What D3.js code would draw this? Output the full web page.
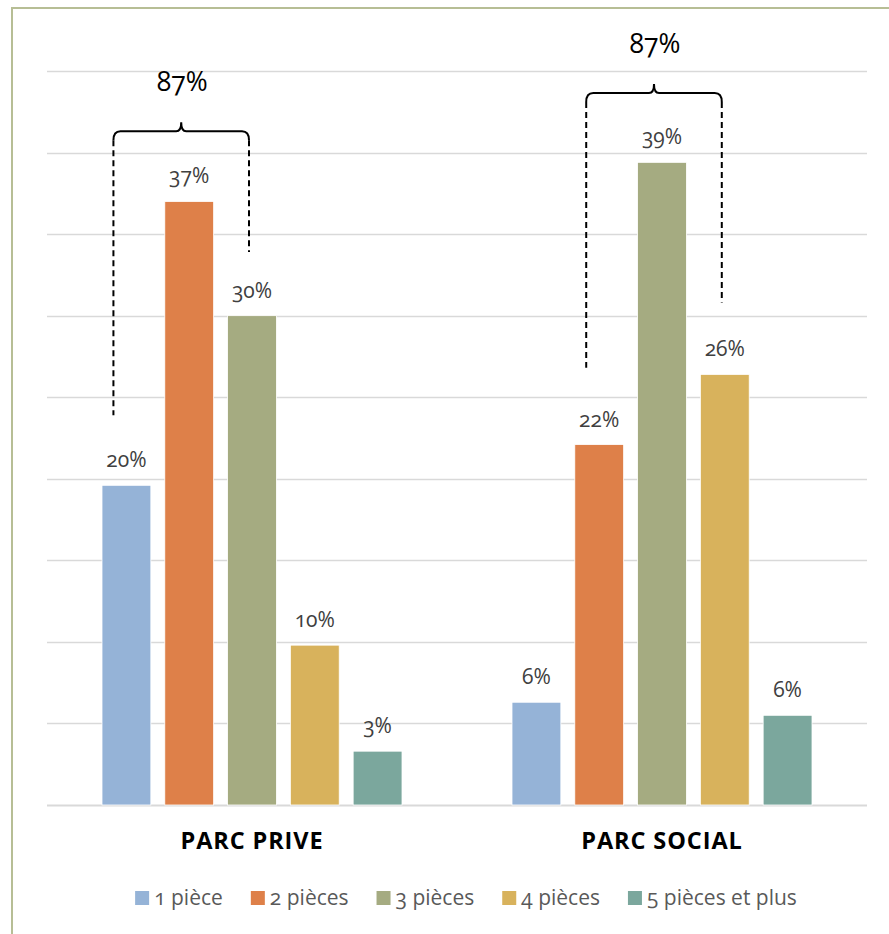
<!DOCTYPE html>
<html>
<head>
<meta charset="utf-8">
<script src="https://cdn.jsdelivr.net/npm/d3@7"></script>
<style>
  body { margin: 0; background: #fff; }
  svg text { font-family: "Open Sans", "Noto Sans", sans-serif; font-variant-numeric: oldstyle-nums; }
</style>
</head>
<body>
<svg width="889" height="934"></svg>
<script>
// categories and series
var groups = ["PARC PRIVE", "PARC SOCIAL"];
var series = ["1 pièce", "2 pièces", "3 pièces", "4 pièces", "5 pièces et plus"];
var colors = ["#95B3D7", "#DE8049", "#A5AB81", "#D8B25C", "#7BA79D"];
var prive = [19.6, 37.0, 30.0, 9.8, 3.3];
var social = [6.3, 22.1, 39.4, 26.4, 5.5];
var yTicks = [0, 5, 10, 15, 20, 25, 30, 35, 40, 45];

// accolades "87%" : groupe, 1ere et derniere serie, niveau, fin des pointillés
var braceLabel = ["87%", "87%"];
var braceFrom = [0, 1];
var braceTo = [2, 3];
var braceLevel = [41.3, 43.65];
var braceDashLeft = [23.9, 26.8];
var braceDashRight = [33.9, 30.8];

var values = [prive, social];

var svg = d3.select("svg");

// cadre
svg.append("rect")
    .attr("x", 12).attr("y", 8)
    .attr("width", 900).attr("height", 950)
    .attr("fill", "none")
    .attr("stroke", "#B7BE95")
    .attr("stroke-width", 2);

var y = d3.scaleLinear().domain([0, 45]).range([805, 71]);
var x0 = d3.scaleBand().domain(groups).range([47, 867]).padding(0);
var x1 = d3.scaleBand().domain(series).range([55, 355]).paddingInner(0.222).paddingOuter(0);

// grille
svg.append("g").selectAll("line").data(yTicks).enter().append("line")
    .attr("x1", 47).attr("x2", 867)
    .attr("y1", function (d) { return Math.round(y(d)) + 0.5; })
    .attr("y2", function (d) { return Math.round(y(d)) + 0.5; })
    .attr("stroke", "#D9D9D9")
    .attr("stroke-width", d => d === 0 ? 2 : 1.5);

// barres
var gGroups = svg.selectAll(".grp").data(groups).enter().append("g")
    .attr("class", "grp")
    .attr("transform", function (d) { return "translate(" + x0(d) + ",0)"; });

gGroups.each(function (g, gi) {
    var grp = d3.select(this);
    var rows = series.map(function (s, i) { return { s: s, v: values[gi][i], c: colors[i] }; });
    grp.selectAll("rect").data(rows).enter().append("rect")
        .attr("x", d => x1(d.s))
        .attr("y", d => y(d.v))
        .attr("width", x1.bandwidth())
        .attr("height", d => y(0) - y(d.v))
        .attr("fill", d => d.c)
        .attr("stroke", "#fff")
        .attr("stroke-width", 0.8);
    grp.selectAll("text.lbl").data(rows).enter().append("text")
        .attr("class", "lbl")
        .attr("x", d => x1(d.s) + x1.bandwidth() / 2)
        .attr("y", d => y(d.v) - 18)
        .attr("text-anchor", "middle")
        .attr("font-size", 21)
        .attr("fill", "#404040")
        .text(d => Math.round(d.v) + "%");
});

// libellés des groupes
svg.selectAll(".cat").data(groups).enter().append("text")
    .attr("class", "cat")
    .attr("x", d => x0(d) + x0.bandwidth() / 2)
    .attr("y", 849)
    .attr("text-anchor", "middle")
    .attr("font-size", 23.5)
    .attr("font-weight", "bold")
    .attr("letter-spacing", 0.9)
    .attr("fill", "#000")
    .text(d => d);

// accolades
braceLabel.forEach(function (lab, i) {
    var g = groups[i];
    var cL = x0(g) + x1(series[braceFrom[i]]) + x1.bandwidth() / 2;
    var cR = x0(g) + x1(series[braceTo[i]]) + x1.bandwidth() / 2;
    var xl = cL - 13, xr = cR - 3, xm = (xl + xr) / 2;
    var yh = y(braceLevel[i]);
    var p = d3.path();
    p.moveTo(xl, yh + 9);
    p.quadraticCurveTo(xl, yh, xl + 7, yh);
    p.lineTo(xm - 5, yh);
    p.quadraticCurveTo(xm, yh, xm, yh - 9);
    p.quadraticCurveTo(xm, yh, xm + 5, yh);
    p.lineTo(xr - 7, yh);
    p.quadraticCurveTo(xr, yh, xr, yh + 9);
    svg.append("path").attr("d", p.toString())
        .attr("fill", "none").attr("stroke", "#000").attr("stroke-width", 2);
    svg.append("line")
        .attr("x1", xl).attr("x2", xl)
        .attr("y1", yh + 9).attr("y2", y(braceDashLeft[i]))
        .attr("stroke", "#000").attr("stroke-width", 2).attr("stroke-dasharray", "6,4");
    svg.append("line")
        .attr("x1", xr).attr("x2", xr)
        .attr("y1", yh + 9).attr("y2", y(braceDashRight[i]))
        .attr("stroke", "#000").attr("stroke-width", 2).attr("stroke-dasharray", "6,4");
    svg.append("text")
        .attr("x", xm + 1)
        .attr("y", yh - 40)
        .attr("text-anchor", "middle")
        .attr("font-size", 26.5)
        .attr("fill", "#000")
        .text(lab);
});

// légende
var legend = svg.append("g");
var lx = 0;
series.forEach(function (s, i) {
    var it = legend.append("g").attr("transform", "translate(" + lx + ",0)");
    it.append("rect").attr("x", 0).attr("y", -7).attr("width", 14).attr("height", 14).attr("fill", colors[i]);
    var t = it.append("text").attr("x", 19).attr("y", 7)
        .attr("font-size", 21).attr("fill", "#595959").text(s);
    lx += 19 + t.node().getComputedTextLength() + 28;
});
var lw = lx - 28;
legend.attr("transform", "translate(" + (466 - lw / 2) + ",898)");
</script>
</body>
</html>
